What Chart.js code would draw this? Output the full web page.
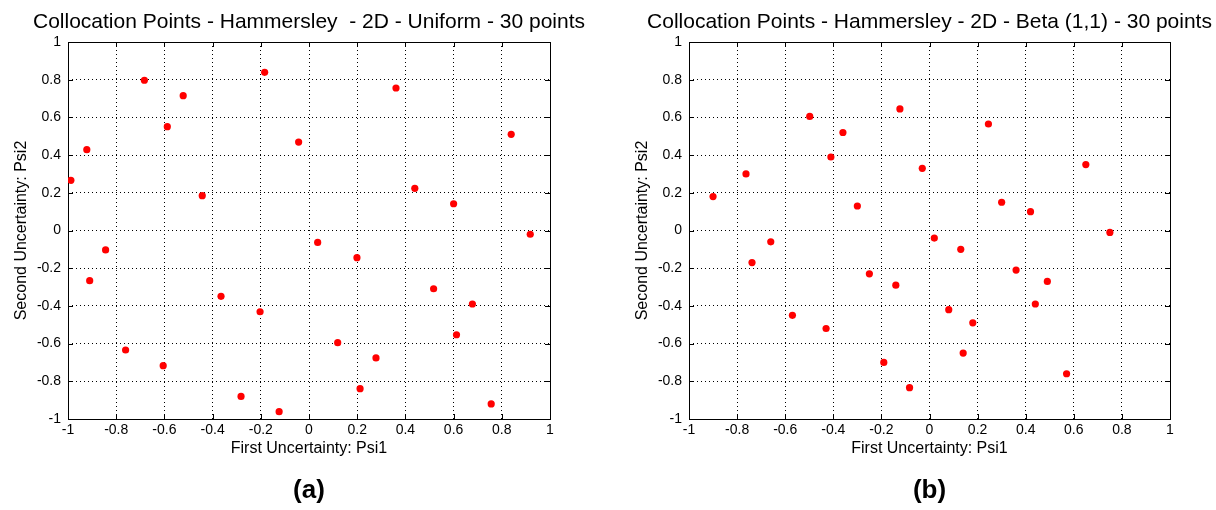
<!DOCTYPE html>
<html>
<head>
    <title>Collocation Points - Hammersley</title>
    <script src="https://cdn.jsdelivr.net/npm/chart.js"></script>
    <style>
        body { margin: 0; background: #fff; overflow: hidden; width: 1216px; height: 510px; position: relative; }
        canvas { position: absolute; top: 0; }
    </style>
</head>
<body>
    <canvas id="chartA" width="618" height="510" style="left: 0px;"></canvas>
    <canvas id="chartB" width="617" height="510" style="left: 621px;"></canvas>
<script>
// tick values and labels shared by both axes of both plots
let tickValues = [-1, -0.8, -0.6, -0.4, -0.2, 0, 0.2, 0.4, 0.6, 0.8, 1];
let tickLabels = ['-1', '-0.8', '-0.6', '-0.4', '-0.2', '0', '0.2', '0.4', '0.6', '0.8', '1'];

// (a) Uniform
let uniformPsi1 = [-0.988, -0.922, -0.910, -0.844, -0.761, -0.683, -0.605, -0.588, -0.522, -0.443,
                   -0.365, -0.282, -0.203, -0.184, -0.124, -0.043, 0.036, 0.119, 0.199, 0.212,
                   0.278, 0.361, 0.439, 0.517, 0.600, 0.612, 0.678, 0.756, 0.839, 0.918];
let uniformPsi2 = [0.266, 0.429, -0.266, -0.103, -0.634, 0.797, -0.717, 0.551, 0.715, 0.185,
                   -0.349, -0.880, -0.431, 0.839, -0.961, 0.469, -0.063, -0.595, -0.144, -0.839,
                   -0.676, 0.756, 0.224, -0.309, 0.142, -0.553, -0.390, -0.920, 0.510, -0.020];

// (b) Beta (1,1)
let betaPsi1 = [-0.900, -0.763, -0.738, -0.660, -0.570, -0.498, -0.430, -0.410, -0.360, -0.300,
                -0.250, -0.190, -0.140, -0.123, -0.083, -0.030, 0.020, 0.080, 0.130, 0.140,
                0.180, 0.245, 0.300, 0.360, 0.420, 0.440, 0.490, 0.570, 0.650, 0.750];
let betaPsi2 = [0.180, 0.300, -0.170, -0.060, -0.450, 0.605, -0.520, 0.390, 0.520, 0.130,
                -0.230, -0.700, -0.290, 0.645, -0.834, 0.330, -0.040, -0.420, -0.100, -0.650,
                -0.490, 0.565, 0.150, -0.210, 0.100, -0.390, -0.270, -0.760, 0.350, -0.010];

let fontFamily = '"Liberation Sans", Arial, sans-serif';

// draws the solid box round the axes and the inward tick marks (matlab style)
const boxPlugin = {
    id: 'box',
    beforeDatasetsDraw(chart) {
        const ctx = chart.ctx;
        const a = chart.chartArea;
        const sx = chart.scales.x, sy = chart.scales.y;
        ctx.save();
        ctx.strokeStyle = '#000';
        ctx.lineWidth = 1;
        ctx.beginPath();
        sx.ticks.forEach(t => {
            let px = Math.round(sx.getPixelForValue(t.value)) + 0.5;
            ctx.moveTo(px, a.bottom); ctx.lineTo(px, a.bottom - 5);
            ctx.moveTo(px, a.top); ctx.lineTo(px, a.top + 5);
        });
        sy.ticks.forEach(t => {
            let py = Math.round(sy.getPixelForValue(t.value)) + 0.5;
            ctx.moveTo(a.left, py); ctx.lineTo(a.left + 5, py);
            ctx.moveTo(a.right, py); ctx.lineTo(a.right - 5, py);
        });
        ctx.stroke();
        ctx.strokeRect(Math.round(a.left) + 0.5, Math.round(a.top) + 0.5,
                       Math.round(a.right - a.left), Math.round(a.bottom - a.top));
        ctx.restore();
    }
};

function setTicks(scale) {
    scale.ticks = tickValues.map(v => ({ value: v }));
}

function makePlot(id, title, letter, xs, ys) {
    let points = xs.map((x, i) => ({ x: x, y: ys[i] }));
    return new Chart(document.getElementById(id), {
        type: 'scatter',
        data: {
            datasets: [{
                data: points,
                backgroundColor: '#ff0000',
                borderWidth: 0,
                pointRadius: 3.6
            }]
        },
        options: {
            responsive: false,
            animation: false,
            plugins: {
                legend: { display: false },
                tooltip: { enabled: false },
                title: {
                    display: true,
                    text: title,
                    color: '#000',
                    font: { family: fontFamily, size: 21, weight: 'normal' },
                    padding: { top: 9.4, bottom: 7.4 }
                },
                subtitle: {
                    display: true,
                    position: 'bottom',
                    text: letter,
                    color: '#000',
                    font: { family: fontFamily, size: 26, weight: 'bold' },
                    padding: { top: 0, bottom: 4 }
                }
            },
            scales: {
                x: {
                    type: 'linear',
                    min: -1,
                    max: 1,
                    afterBuildTicks: setTicks,
                    afterFit: s => { s.height = 55.8; },
                    grid: { color: '#000', drawTicks: false },
                    border: { display: false, dash: [1, 3] },
                    ticks: {
                        autoSkip: false,
                        maxRotation: 0,
                        padding: 3,
                        color: '#000',
                        font: { family: fontFamily, size: 14 },
                        callback: (v, i) => tickLabels[i]
                    },
                    title: {
                        display: true,
                        text: 'First Uncertainty: Psi1',
                        color: '#000',
                        font: { family: fontFamily, size: 16 },
                        padding: { top: 0, bottom: 16.7 }
                    }
                },
                y: {
                    type: 'linear',
                    min: -1,
                    max: 1,
                    afterBuildTicks: setTicks,
                    afterFit: s => { s.width = 68; },
                    grid: { color: '#000', drawTicks: false },
                    border: { display: false, dash: [1, 3] },
                    ticks: {
                        autoSkip: false,
                        padding: 7,
                        color: '#000',
                        font: { family: fontFamily, size: 14 },
                        callback: (v, i) => tickLabels[i]
                    },
                    title: {
                        display: true,
                        text: 'Second Uncertainty: Psi2',
                        color: '#000',
                        font: { family: fontFamily, size: 16 },
                        padding: { top: 12.4, bottom: 0 }
                    }
                },
                // empty axis on the right so the plot sits centred under its title
                y2: {
                    type: 'linear',
                    position: 'right',
                    afterFit: s => { s.width = 68; },
                    grid: { display: false },
                    border: { display: false },
                    ticks: { display: false }
                }
            }
        },
        plugins: [boxPlugin]
    });
}

makePlot('chartA', 'Collocation Points - Hammersley  - 2D - Uniform - 30 points', '(a)', uniformPsi1, uniformPsi2);
makePlot('chartB', 'Collocation Points - Hammersley - 2D - Beta (1,1) - 30 points', '(b)', betaPsi1, betaPsi2);
</script>
</body>
</html>
